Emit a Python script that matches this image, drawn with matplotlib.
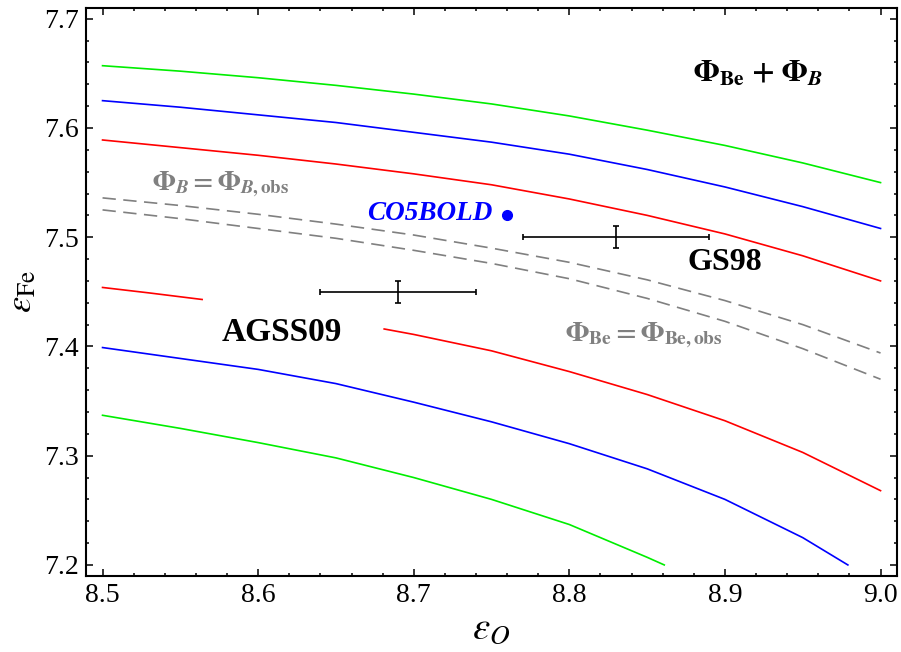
import numpy as np
import matplotlib
matplotlib.use("Agg")
import matplotlib.pyplot as plt
from matplotlib.ticker import MultipleLocator

plt.rcParams['font.family'] = ['Liberation Serif', 'DejaVu Serif']
plt.rcParams['mathtext.fontset'] = 'stix'

# contour curves (eps_O, eps_Fe)
x_hi = [8.5, 8.55, 8.6, 8.65, 8.7, 8.75, 8.8, 8.85, 8.9, 8.95, 9.0]
green_hi = [7.657, 7.652, 7.646, 7.639, 7.631, 7.622, 7.611, 7.598, 7.584, 7.568, 7.550]
blue_hi = [7.625, 7.619, 7.612, 7.605, 7.596, 7.587, 7.576, 7.562, 7.546, 7.528, 7.508]
red_hi = [7.589, 7.582, 7.575, 7.567, 7.558, 7.548, 7.535, 7.520, 7.503, 7.483, 7.460]

# observed flux lines (dashed)
dash_b = [7.536, 7.529, 7.521, 7.512, 7.502, 7.490, 7.477, 7.461, 7.442, 7.420, 7.394]
dash_be = [7.525, 7.517, 7.508, 7.499, 7.488, 7.476, 7.462, 7.444, 7.423, 7.398, 7.370]

# lower branch
x_red_lo1 = [8.5, 8.53, 8.564]
red_lo1 = [7.454, 7.449, 7.443]
x_red_lo2 = [8.681, 8.7, 8.75, 8.8, 8.85, 8.9, 8.95, 9.0]
red_lo2 = [7.416, 7.411, 7.396, 7.377, 7.356, 7.332, 7.303, 7.268]
x_blue_lo = [8.5, 8.55, 8.6, 8.65, 8.7, 8.75, 8.8, 8.85, 8.9, 8.95, 8.979]
blue_lo = [7.399, 7.389, 7.379, 7.366, 7.349, 7.331, 7.311, 7.288, 7.260, 7.225, 7.2]
x_green_lo = [8.5, 8.55, 8.6, 8.65, 8.7, 8.75, 8.8, 8.85, 8.861]
green_lo = [7.337, 7.325, 7.312, 7.298, 7.280, 7.260, 7.237, 7.207, 7.2]

# solar composition points
comp_names = ['GS98', 'AGSS09']
comp_x = [8.83, 8.69]
comp_y = [7.50, 7.45]
comp_xerr = [0.06, 0.05]
comp_yerr = [0.01, 0.01]
co5bold = (8.76, 7.52)

fig = plt.figure(figsize=(9.01, 6.52), dpi=100)
ax = fig.add_axes([0.0955, 0.1166, 0.9001, 0.8711])

lw = 1.2
ax.plot(x_hi, green_hi, color='#00ee00', lw=lw)
ax.plot(x_hi, blue_hi, color='#0000ff', lw=lw)
ax.plot(x_hi, red_hi, color='#ff0000', lw=lw)
ax.plot(x_red_lo1, red_lo1, color='#ff0000', lw=lw)
ax.plot(x_red_lo2, red_lo2, color='#ff0000', lw=lw)
ax.plot(x_blue_lo, blue_lo, color='#0000ff', lw=lw)
ax.plot(x_green_lo, green_lo, color='#00ee00', lw=lw)
ax.plot(x_hi, dash_b, color='#808080', lw=1.2, dashes=(8, 4.5))
ax.plot(x_hi, dash_be, color='#808080', lw=1.2, dashes=(8, 4.5))

ax.errorbar(comp_x, comp_y, xerr=comp_xerr, yerr=comp_yerr, fmt='none',
            ecolor='black', elinewidth=1.2, capsize=2.5, capthick=1.2)
ax.plot([co5bold[0]], [co5bold[1]], 'o', color='#0000ff', ms=7)

bold_b = r'$\mathbf{\Phi}_{\mathbfit{B}}\mathbf{=\Phi}_{\mathbfit{B}\mathbf{,obs}}$'
ax.text(8.532, 7.549, bold_b, color='#808080', fontsize=19.5, va='center', ha='left')
ax.text(8.7974, 7.410, r'$\mathbf{\Phi_{Be}=\Phi_{Be,obs}}$', color='#808080',
        fontsize=20, va='center', ha='left')
ax.text(8.921, 7.650, r'$\mathbf{\Phi_{Be}}\ \mathbf{+}\ \mathbf{\Phi}_{\mathbfit{B}}$',
        color='black', fontsize=22, va='center', ha='center')
ax.text(8.900, 7.477, comp_names[0], fontsize=23, fontweight='bold', va='center', ha='center')
ax.text(8.6154, 7.413, comp_names[1], fontsize=24, fontweight='bold', va='center', ha='center')
ax.text(8.7504, 7.522, 'CO5BOLD', color='#0000ff', fontsize=19.5, fontweight='bold',
        fontstyle='italic', va='center', ha='right')

ax.set_xlim(8.4894, 9.0106)
ax.set_ylim(7.1899, 7.7098)
ax.xaxis.set_major_locator(MultipleLocator(0.1))
ax.xaxis.set_minor_locator(MultipleLocator(0.02))
ax.yaxis.set_major_locator(MultipleLocator(0.1))
ax.yaxis.set_minor_locator(MultipleLocator(0.02))
ax.xaxis.set_major_formatter(plt.FuncFormatter(lambda v, p: '%.1f' % v))
ax.yaxis.set_major_formatter(plt.FuncFormatter(lambda v, p: '%.1f' % v))
ax.tick_params(which='both', direction='in', top=True, right=True, width=1.1)
ax.tick_params(which='major', length=5, labelsize=20, pad=5)
ax.tick_params(which='minor', length=2.5)
for s in ax.spines.values():
    s.set_linewidth(1.5)

ax.set_xlabel(r'$\varepsilon_O$', fontsize=28, labelpad=2)
ax.set_ylabel(r'$\varepsilon_{\mathrm{Fe}}$', fontsize=26, labelpad=4)

fig.savefig('out.png', dpi=100)
